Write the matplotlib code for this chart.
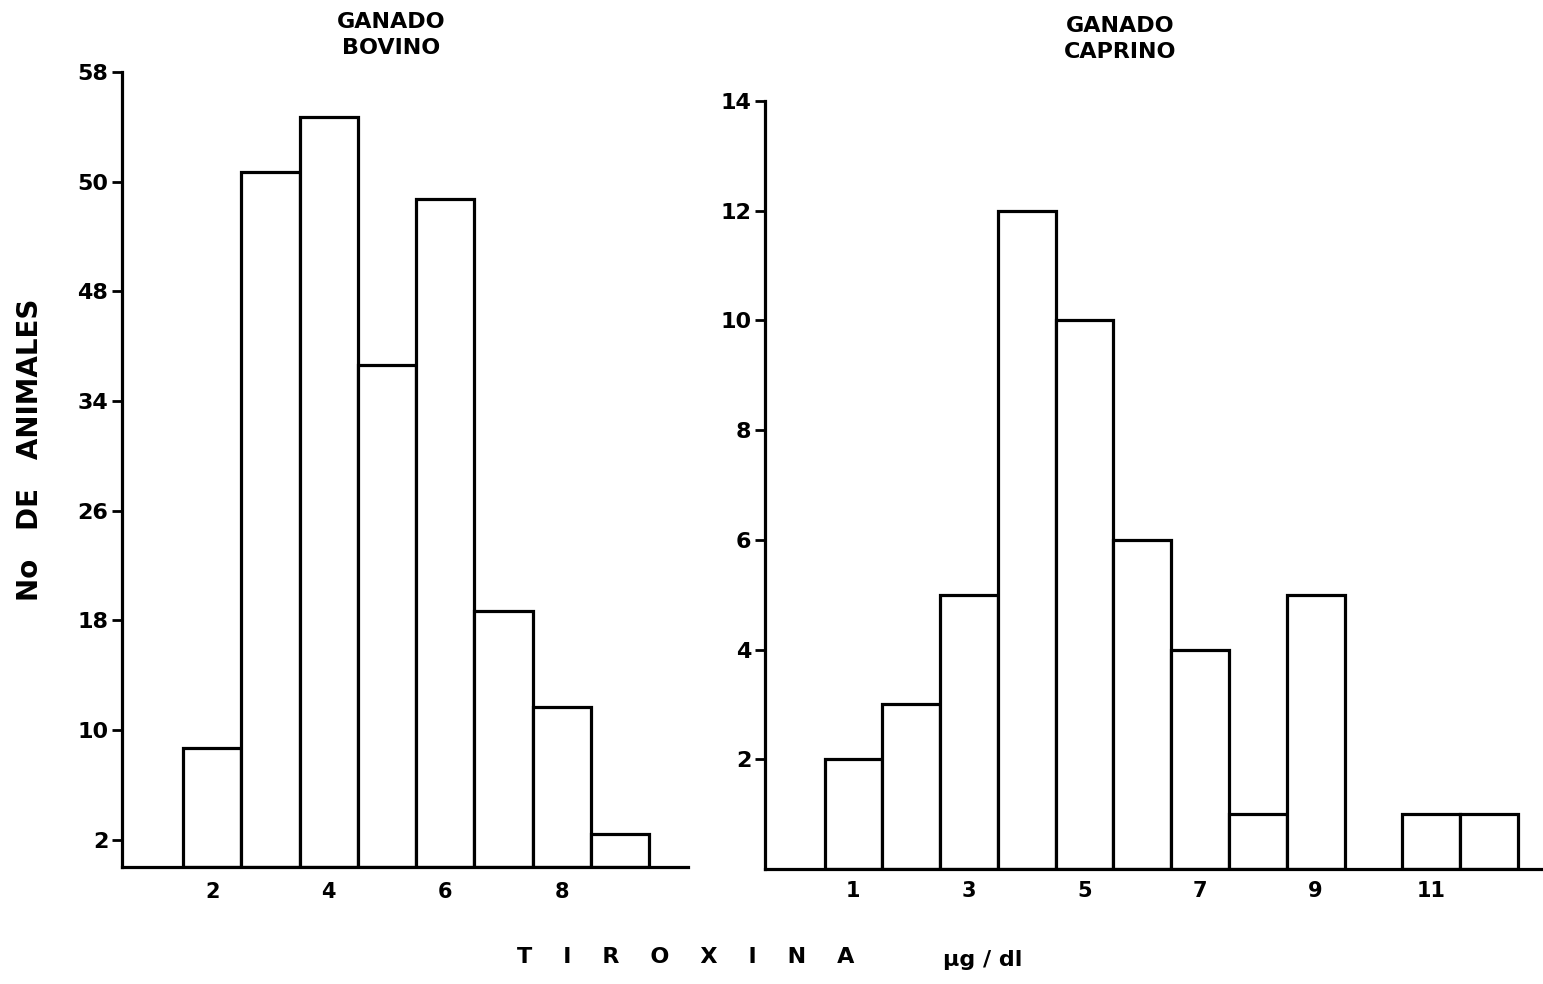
import numpy as np
import matplotlib
matplotlib.use("Agg")
import matplotlib.pyplot as plt

plt.rcParams['font.family'] = ['DejaVu Sans']
plt.rcParams['font.weight'] = 'bold'

# ganado bovino (left panel)
bov_x = [2, 3, 4, 5, 6, 7, 8, 9]
bov_n = [8.7, 50.7, 54.7, 36.6, 48.7, 18.7, 11.7, 2.4]
bov_yticks = [2, 10, 18, 26, 34, 42, 50, 58]
bov_ylabels = ['2', '10', '18', '26', '34', '48', '50', '58']
bov_xticks = [2, 4, 6, 8]

# ganado caprino (right panel)
cap_x = [1, 2, 3, 4, 5, 6, 7, 8, 9, 10, 11, 12]
cap_n = [2, 3, 5, 12, 10, 6, 4, 1, 5, 0, 1, 1]
cap_yticks = [2, 4, 6, 8, 10, 12, 14]
cap_xticks = [1, 3, 5, 7, 9, 11]

fig = plt.figure(figsize=(15.43, 9.84), dpi=100)
ax1 = fig.add_axes([0.0791, 0.1189, 0.3668, 0.8079])
ax2 = fig.add_axes([0.4958, 0.1169, 0.5029, 0.7805])

lw = 2.3

def style(ax, xpad):
    for s in ['top', 'right']:
        ax.spines[s].set_visible(False)
    for s in ['left', 'bottom']:
        ax.spines[s].set_linewidth(lw)
    ax.tick_params(axis='y', direction='out', length=7, width=2, pad=3, labelsize=16)
    ax.tick_params(axis='x', length=0, pad=xpad, labelsize=15)

ax1.bar(bov_x, bov_n, width=1, facecolor='white', edgecolor='black', linewidth=lw)
ax1.set_xlim(0.45, 10.17)
ax1.set_ylim(0, 58)
ax1.set_yticks(bov_yticks)
ax1.set_yticklabels(bov_ylabels)
ax1.set_xticks(bov_xticks)
style(ax1, 11)

bars = [(x, n) for x, n in zip(cap_x, cap_n) if n > 0]
ax2.bar([b[0] for b in bars], [b[1] for b in bars], width=1, facecolor='white',
        edgecolor='black', linewidth=lw)
ax2.set_xlim(-0.53, 12.9)
ax2.set_ylim(0, 14)
ax2.set_yticks(cap_yticks)
ax2.set_xticks(cap_xticks)
style(ax2, 9)

fig.text(391/1543, 1 - 35/984, 'GANADO\nBOVINO', ha='center', va='center',
         fontsize=16, fontweight='bold', linespacing=1.35)
fig.text(1120/1543, 1 - 39/984, 'GANADO\nCAPRINO', ha='center', va='center',
         fontsize=16, fontweight='bold', linespacing=1.35)

fig.text(30/1543, 1 - 450/984, 'No   DE   ANIMALES', rotation=90, ha='center', va='center',
         fontsize=20, fontweight='bold')

fig.text(517/1543, 1 - 957/984, 'T    I    R    O    X    I    N    A', ha='left', va='center',
         fontsize=16, fontweight='bold')
fig.text(943/1543, 1 - 960/984, 'µg / dl', ha='left', va='center',
         fontsize=16, fontweight='bold')

fig.savefig('out.png', dpi=100)
